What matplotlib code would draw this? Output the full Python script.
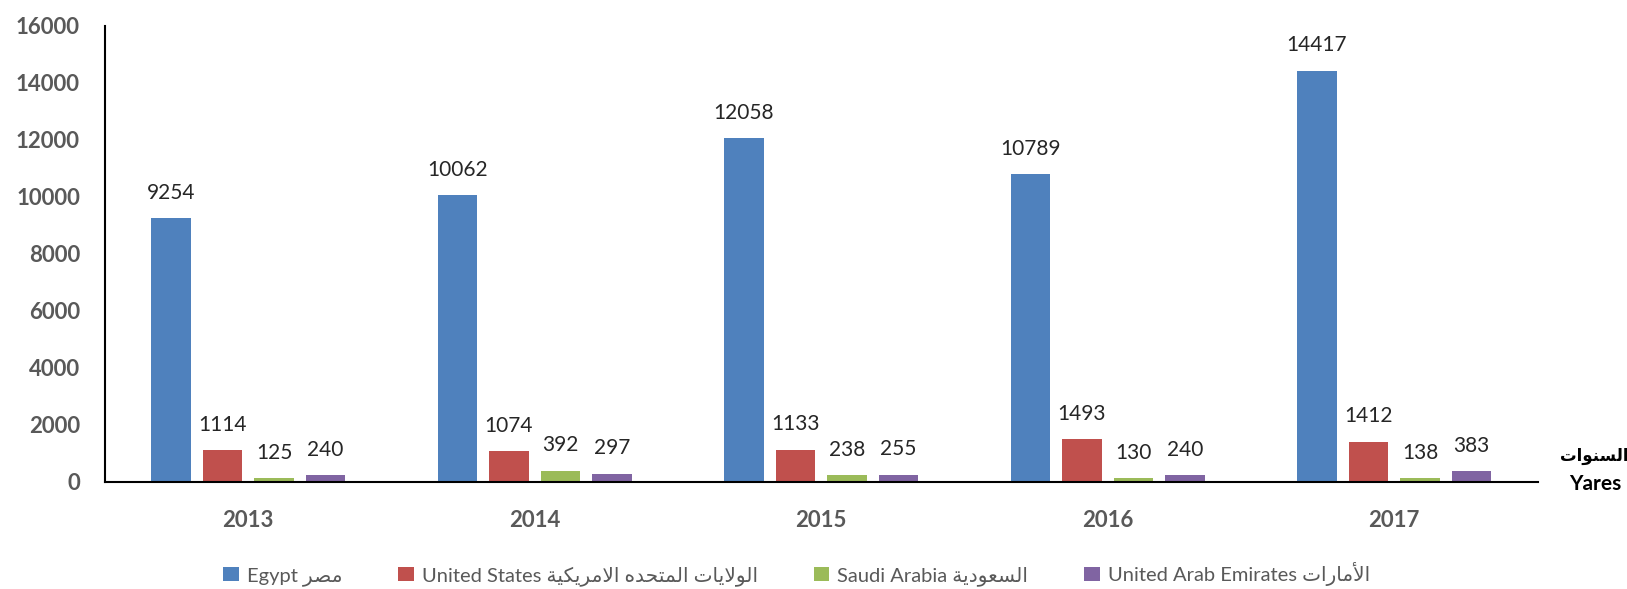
import numpy as np
import matplotlib
matplotlib.use("Agg")
import matplotlib.pyplot as plt
from matplotlib.patches import Patch

# data
years = ["2013", "2014", "2015", "2016", "2017"]
egypt = [9254, 10062, 12058, 10789, 14417]
united_states = [1114, 1074, 1133, 1493, 1412]
saudi_arabia = [125, 392, 238, 130, 138]
uae = [240, 297, 255, 240, 383]

series_names = ["Egypt مصر", "United States الولايات المتحده الامريكية",
                "Saudi Arabia السعودية", "United Arab Emirates الأمارات"]
colors = ["#4F81BD", "#C0504D", "#9BBB59", "#8064A2"]

# matplotlib 3.10 does no Arabic shaping, so pick the presentation forms by hand
FORMS = {
    'ا': ('\uFE8D', '\uFE8E', None, None),
    'أ': ('\uFE83', '\uFE84', None, None),
    'ة': ('\uFE93', '\uFE94', None, None),
    'ت': ('\uFE95', '\uFE96', '\uFE97', '\uFE98'),
    'ح': ('\uFEA1', '\uFEA2', '\uFEA3', '\uFEA4'),
    'د': ('\uFEA9', '\uFEAA', None, None),
    'ر': ('\uFEAD', '\uFEAE', None, None),
    'س': ('\uFEB1', '\uFEB2', '\uFEB3', '\uFEB4'),
    'ص': ('\uFEB9', '\uFEBA', '\uFEBB', '\uFEBC'),
    'ع': ('\uFEC9', '\uFECA', '\uFECB', '\uFECC'),
    'ك': ('\uFED9', '\uFEDA', '\uFEDB', '\uFEDC'),
    'ل': ('\uFEDD', '\uFEDE', '\uFEDF', '\uFEE0'),
    'م': ('\uFEE1', '\uFEE2', '\uFEE3', '\uFEE4'),
    'ن': ('\uFEE5', '\uFEE6', '\uFEE7', '\uFEE8'),
    'ه': ('\uFEE9', '\uFEEA', '\uFEEB', '\uFEEC'),
    'و': ('\uFEED', '\uFEEE', None, None),
    'ي': ('\uFEF1', '\uFEF2', '\uFEF3', '\uFEF4'),
}
LAM_ALEF = {'ا': ('\uFEFB', '\uFEFC', None, None), 'أ': ('\uFEF7', '\uFEF8', None, None)}


def shape_arabic(text):
    """Return the Arabic run in visual (left to right) order with joined forms."""
    units = []
    i = 0
    while i < len(text):
        c = text[i]
        if c == 'ل' and i + 1 < len(text) and text[i + 1] in LAM_ALEF:
            units.append(LAM_ALEF[text[i + 1]])
            i += 2
        elif c in FORMS:
            units.append(FORMS[c])
            i += 1
        else:
            units.append(c)
            i += 1
    out = []
    for k, u in enumerate(units):
        if isinstance(u, str):
            out.append(u)
            continue
        prev = units[k - 1] if k > 0 else None
        nxt = units[k + 1] if k + 1 < len(units) else None
        join_prev = isinstance(prev, tuple) and prev[2] is not None
        join_next = u[2] is not None and isinstance(nxt, tuple)
        if join_prev and join_next:
            out.append(u[3])
        elif join_prev:
            out.append(u[1])
        elif join_next:
            out.append(u[2])
        else:
            out.append(u[0])
    return ''.join(reversed(out))


def mixed_label(label):
    # latin part first, arabic run after it (LTR paragraph)
    words = label.split(" ")
    latin = [w for w in words if all(ord(ch) < 128 for ch in w)]
    arabic = [w for w in words if w not in latin]
    return " ".join(latin) + " " + shape_arabic(" ".join(arabic))


fonts = ['Lato', 'DejaVu Sans']
tick_color = "#595959"

fig = plt.figure(figsize=(16.27, 5.89), dpi=100)
ax = fig.add_axes([0.0645, 0.1817, 0.8805, 0.7745])

data = [egypt, united_states, saudi_arabia, uae]
x = np.arange(len(years))
width = 0.138
step = 0.18
offsets = (np.arange(4) - 1.5) * step

for vals, off, col in zip(data, offsets, colors):
    bars = ax.bar(x + off, vals, width, color=col)
    for b, v in zip(bars, vals):
        ax.annotate(str(v), (b.get_x() + b.get_width() / 2, v), xytext=(0, 14),
                    textcoords="offset points", ha="center", va="baseline",
                    fontsize=15, color="#262626", family=fonts)

ax.set_xlim(-0.5, len(years) - 0.5)
ax.set_ylim(0, 16000)
ax.set_yticks(np.arange(0, 16001, 2000))
ax.set_xticks(x)
ax.set_xticklabels(years)

for lab in ax.get_xticklabels() + ax.get_yticklabels():
    lab.set_fontfamily(fonts)
    lab.set_fontweight("bold")
    lab.set_fontsize(16)
    lab.set_color(tick_color)

ax.tick_params(axis="x", length=0, pad=20)
ax.tick_params(axis="y", length=0, pad=18)
ax.spines["top"].set_visible(False)
ax.spines["right"].set_visible(False)
for s in ["left", "bottom"]:
    ax.spines[s].set_linewidth(1.5)
    ax.spines[s].set_color("black")

# axis title on the right
fig.text(1594 / 1627, 1 - 456 / 589, shape_arabic("السنوات"), ha="center", va="center",
         fontsize=12, fontweight="bold", family=fonts)
fig.text(1595 / 1627, 1 - 484 / 589, "Yares", ha="center", va="center",
         fontsize=15, fontweight="bold", family=fonts)

handles = [Patch(facecolor=c) for c in colors]
labels = [mixed_label(n) for n in series_names]
leg = fig.legend(handles, labels, loc="center", bbox_to_anchor=(0.4896, 1 - 574 / 589),
                 ncol=4, frameon=False, handlelength=0.75, handleheight=0.75,
                 handletextpad=0.4, columnspacing=2.8,
                 prop={"family": fonts, "size": 14.5})
for t in leg.get_texts():
    t.set_color(tick_color)

fig.savefig("out.png", dpi=100)
